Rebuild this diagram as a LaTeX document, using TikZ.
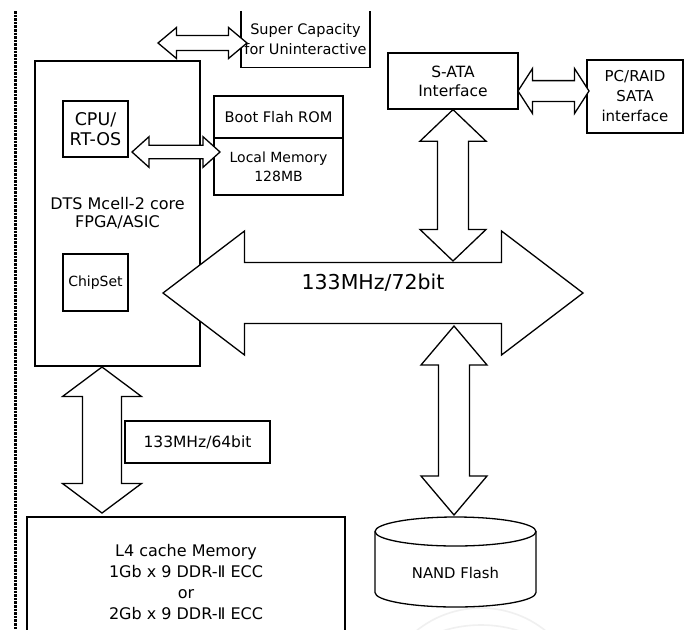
\documentclass[tikz,border=0pt]{standalone}
\usepackage{fontspec}
\setmainfont{DejaVu Sans}
\usetikzlibrary{calc}

\newcommand{\fs}[2]{\fontsize{#1}{#2}\selectfont}

% fat double arrows, horizontal and vertical:
% #1 first tip, #2 second tip, #3 half shaft, #4 half head, #5 head length
\newcommand{\hfat}[5]{%
  \draw[fatarrow] let \p1=(#1), \p2=(#2) in
    (\x1,\y1) -- (\x1+#5,\y1+#4) -- (\x1+#5,\y1+#3) -- (\x2-#5,\y1+#3)
    -- (\x2-#5,\y1+#4) -- (\x2,\y1) -- (\x2-#5,\y1-#4) -- (\x2-#5,\y1-#3)
    -- (\x1+#5,\y1-#3) -- (\x1+#5,\y1-#4) -- cycle;}
\newcommand{\vfat}[5]{%
  \draw[fatarrow] let \p1=(#1), \p2=(#2) in
    (\x1,\y1) -- (\x1+#4,\y1-#5) -- (\x1+#3,\y1-#5) -- (\x1+#3,\y2+#5)
    -- (\x1+#4,\y2+#5) -- (\x1,\y2) -- (\x1-#4,\y2+#5) -- (\x1-#3,\y2+#5)
    -- (\x1-#3,\y1-#5) -- (\x1-#4,\y1-#5) -- cycle;}

\tikzset{
  blk/.style={draw, line width=1.3pt, inner sep=0pt, align=center, font=\fs{13.5}{20}},
  fatarrow/.style={draw, line width=1.3pt, fill=white, line join=miter},
  marginrule/.style={line width=3pt, dash pattern=on 2.6pt off 1pt},
}

\begin{document}
\begin{tikzpicture}[x=1pt, y=-1pt]
  \fill[white] (0,0) rectangle (684,629);
  \useasboundingbox (0,0) rectangle (684,629);

  % faint mark at the bottom
  \draw[gray!12, line width=1.6pt] (481,711) circle [radius=103pt];
  \draw[gray!12, line width=1.6pt] (481,752) circle [radius=127pt];

  % margin rule
  \draw[marginrule] (15,11) -- (15,629);

  % core and its parts
  \node[blk, minimum width=165pt, minimum height=305pt, font=\fs{16}{18}] (dts) at (117.5,213.5) {DTS Mcell-2 core\\FPGA/ASIC};
  \node[blk, minimum width=65pt, minimum height=56pt, font=\fs{17.5}{20}] (cpu) at (95.5,129) {CPU/\\RT-OS};
  \node[blk, minimum width=65pt, minimum height=57pt, font=\fs{14}{16}] (chip) at (95.5,282.5) {ChipSet};

  % memories beside the core
  \node[blk, minimum width=129pt, minimum height=42pt, font=\fs{14.6}{18}] (boot) at (278.5,117) {Boot Flah ROM};
  \node[blk, minimum width=129pt, minimum height=57pt, font=\fs{14}{19}] (local) at (278.5,166.5) {Local Memory\\128MB};

  % super capacity, open at the top
  \node[align=center, font=\fs{14.5}{20}, minimum width=127pt, minimum height=56pt] (sup) at (305.5,39) {Super Capacity\\for Uninteractive};
  \draw[line width=1.3pt] (sup.north west) -- (sup.south west) -- (sup.south east) -- (sup.north east);

  % storage side
  \node[blk, minimum width=130pt, minimum height=56pt, font=\fs{15.5}{19}] (sata) at (453,81) {S-ATA\\Interface};
  \node[blk, minimum width=96pt, minimum height=73pt, font=\fs{15}{20}] (raid) at (635,96.5) {PC/RAID\\SATA\\interface};
  \node[blk, minimum width=145pt, minimum height=42pt, font=\fs{15.5}{18}] (rate) at (197.5,442) {133MHz/64bit};
  \node[blk, minimum width=318pt, minimum height=130pt, font=\fs{16}{20.7}] (l4) at (186,582) {L4 cache Memory\\1Gb x 9 DDR-Ⅱ ECC\\or\\2Gb x 9 DDR-Ⅱ ECC};

  % NAND flash drum
  \node[font=\fs{14.8}{18}] (nand) at (455.5,573) {NAND Flash};
  \draw[line width=1.3pt] (375,531.5) -- (375,592.5)
    arc[start angle=180, end angle=360, x radius=80.5pt, y radius=14.5pt] -- (536,531.5);
  \draw[line width=1.3pt] (455.5,531.5) ellipse [x radius=80.5pt, y radius=14.5pt];

  % arrow ends
  \coordinate (supL) at (158,43);
  \coordinate (supR) at (247,43);
  \coordinate (cpuR) at (132,152);
  \coordinate (locL) at (220,152);
  \coordinate (sataR) at (518,91);
  \coordinate (raidL) at (589,91);
  \coordinate (busL) at (163,293);
  \coordinate (busR) at (583,293);
  \coordinate (busN) at (454,261);
  \coordinate (busS) at (454,326);
  \coordinate (nandN) at (454,515);
  \coordinate (dtsS) at (102,367);
  \coordinate (l4N) at (102,513);

  % links
  \hfat{supL}{supR}{7.5pt}{15.5pt}{18.5pt}
  \hfat{cpuR}{locL}{6.8pt}{15.3pt}{17pt}
  \hfat{sataR}{raidL}{10.4pt}{22.5pt}{14.5pt}
  \vfat{sata.south}{busN}{15.5pt}{33pt}{31.5pt}
  \vfat{busS}{nandN}{15.5pt}{33pt}{39pt}
  \vfat{dtsS}{l4N}{19.5pt}{39.5pt}{29.5pt}

  % main bus
  \hfat{busL}{busR}{30.5pt}{62pt}{81.5pt}
  \node[font=\fs{20.5}{24}] (bus) at (373,283) {133MHz/72bit};
\end{tikzpicture}
\end{document}
